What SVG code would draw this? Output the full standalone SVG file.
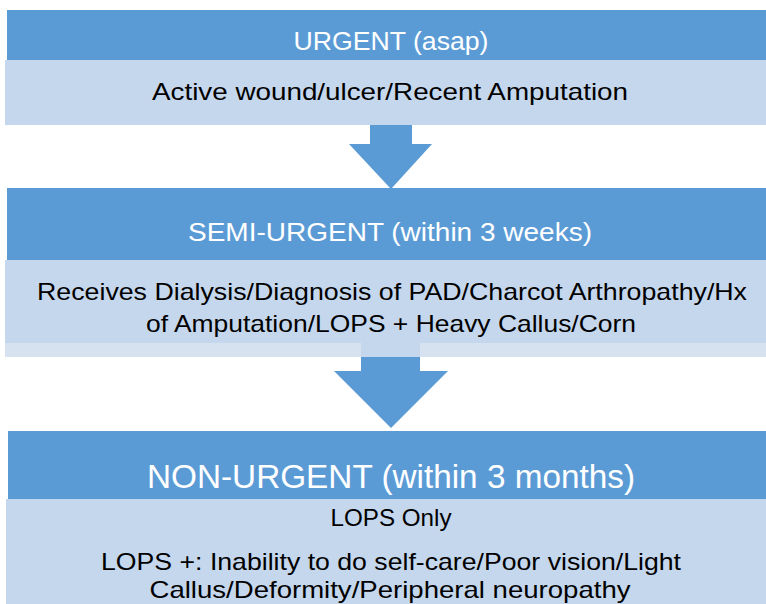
<svg xmlns="http://www.w3.org/2000/svg" width="766" height="604" viewBox="0 0 766 604">
<style>
.hdr{fill:#5B9BD5}
.body{fill:#C5D7EC}
.strip{fill:#D6E2F0}
.arrow{fill:#5B9BD5}
text{font-family:"Liberation Sans","Noto Sans",Arial,sans-serif;text-anchor:middle}
.ht{fill:#FFFFFF}
.bt{fill:#000000}
</style>
<rect width="766" height="604" fill="#FFFFFF"/>
<g id="connectors">
  <g id="arrow1">
    <rect class="arrow" x="370" y="125" width="42" height="20"/>
    <polygon class="arrow" points="349,144 432,144 391,189"/>
  </g>
  <g id="arrow2">
    <rect class="arrow" x="361" y="357" width="59" height="15"/>
    <polygon class="arrow" points="334,371 448,371 391,428"/>
  </g>
</g>
<g id="urgent">
  <rect class="hdr" x="7" y="10" width="759" height="50"/>
  <rect class="body" x="5" y="60" width="761" height="65"/>
  <text class="ht" x="391" y="50" font-size="26" textLength="195" lengthAdjust="spacingAndGlyphs">URGENT (asap)</text>
  <text class="bt" x="390" y="100" font-size="24" textLength="476" lengthAdjust="spacingAndGlyphs">Active wound/ulcer/Recent Amputation</text>
</g>
<g id="semi-urgent">
  <rect class="hdr" x="7" y="188" width="759" height="72"/>
  <rect class="strip" x="5" y="260" width="761" height="97"/>
  <rect class="body" x="5" y="260" width="761" height="83"/>
  <rect class="body" x="361" y="343" width="59" height="14"/>
  <text class="ht" x="390" y="241" font-size="26" textLength="404" lengthAdjust="spacingAndGlyphs">SEMI-URGENT (within 3 weeks)</text>
  <text class="bt" x="392" y="300" font-size="24" textLength="710" lengthAdjust="spacingAndGlyphs">Receives Dialysis/Diagnosis of PAD/Charcot Arthropathy/Hx</text>
  <text class="bt" x="391" y="332" font-size="24" textLength="490" lengthAdjust="spacingAndGlyphs">of Amputation/LOPS + Heavy Callus/Corn</text>
</g>
<g id="non-urgent">
  <rect class="hdr" x="8" y="431" width="758" height="68"/>
  <rect class="body" x="6" y="499" width="760" height="105"/>
  <text class="ht" x="391" y="488" font-size="33" textLength="488" lengthAdjust="spacingAndGlyphs">NON-URGENT (within 3 months)</text>
  <text class="bt" x="391" y="526" font-size="24" textLength="121" lengthAdjust="spacingAndGlyphs">LOPS Only</text>
  <text class="bt" x="391" y="570" font-size="24" textLength="580" lengthAdjust="spacingAndGlyphs">LOPS +: Inability to do self-care/Poor vision/Light</text>
  <text class="bt" x="390" y="598" font-size="24" textLength="481" lengthAdjust="spacingAndGlyphs">Callus/Deformity/Peripheral neuropathy</text>
</g>
</svg>
